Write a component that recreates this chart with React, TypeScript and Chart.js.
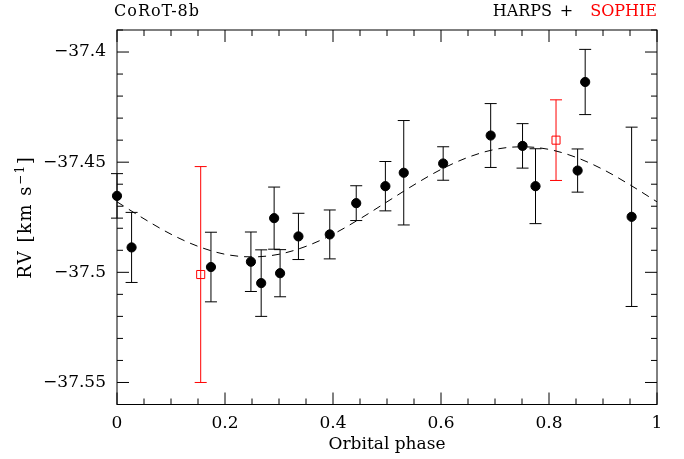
import { useEffect, useRef } from 'react';
import { Chart, registerables } from 'chart.js';

Chart.register(...registerables);

// HARPS radial velocities (phase, RV km/s, 1-sigma error)
const harpsPhase = [0.0, 0.027, 0.174, 0.248, 0.267, 0.291, 0.302, 0.336, 0.394, 0.443, 0.497, 0.531, 0.604, 0.692, 0.751, 0.775, 0.853, 0.867, 0.953];
const harpsRV = [-37.4653, -37.4887, -37.4976, -37.4952, -37.5049, -37.4754, -37.5004, -37.4837, -37.4828, -37.4686, -37.4609, -37.4548, -37.4506, -37.4379, -37.4426, -37.4609, -37.4538, -37.4136, -37.4748];
const harpsErr = [0.0101, 0.0159, 0.0158, 0.0135, 0.0151, 0.0141, 0.0107, 0.0105, 0.0111, 0.0079, 0.0112, 0.0237, 0.0076, 0.0145, 0.0101, 0.017, 0.0098, 0.0148, 0.0407];

// SOPHIE radial velocities
const sophiePhase = [0.155, 0.813];
const sophieRV = [-37.501, -37.44];
const sophieErr = [0.049, 0.0183];

// Orbital model curve
const modelPhase = [0, 0.05, 0.1, 0.15, 0.2, 0.25, 0.3, 0.35, 0.4, 0.45, 0.5, 0.55, 0.6, 0.65, 0.7, 0.75, 0.8, 0.85, 0.9, 0.95, 1.0];
const modelRV = [-37.468, -37.4757, -37.4827, -37.4882, -37.4918, -37.493, -37.4918, -37.4882, -37.4827, -37.4757, -37.468, -37.4603, -37.4533, -37.4478, -37.4442, -37.443, -37.4442, -37.4478, -37.4533, -37.4603, -37.468];

// Axes
const xMin = 0;
const xMax = 1;
const yMin = -37.56;
const yMax = -37.39;
const xTickValues = [0, 0.2, 0.4, 0.6, 0.8, 1];
const xTickLabels = ['0', '0.2', '0.4', '0.6', '0.8', '1'];
const yTickValues = [-37.55, -37.5, -37.45, -37.4];
const yTickLabels = ['\u221237.55', '\u221237.5', '\u221237.45', '\u221237.4'];
const xMinorValues = [0, 0.05, 0.1, 0.15, 0.2, 0.25, 0.3, 0.35, 0.4, 0.45, 0.5, 0.55, 0.6, 0.65, 0.7, 0.75, 0.8, 0.85, 0.9, 0.95, 1];
const yMinorValues = [-37.56, -37.55, -37.54, -37.53, -37.52, -37.51, -37.5, -37.49, -37.48, -37.47, -37.46, -37.45, -37.44, -37.43, -37.42, -37.41, -37.4, -37.39];

const FONT = '"DejaVu Serif", serif';

const isMajor = (v: number, majors: number[]) => majors.some((m) => Math.abs(m - v) < 1e-9);

const framePlugin = {
  id: 'frameAndErrors',
  beforeDatasetsDraw(chart: any) {
    const { ctx, chartArea: a, scales } = chart;
    const xs = scales.x;
    const ys = scales.y;
    ctx.save();
    ctx.strokeStyle = '#000';
    ctx.lineWidth = 1;
    ctx.strokeRect(a.left, a.top, a.right - a.left, a.bottom - a.top);
    ctx.beginPath();
    xMinorValues.forEach((v) => {
      const px = xs.getPixelForValue(v);
      const len = isMajor(v, xTickValues) ? 12 : 6;
      ctx.moveTo(px, a.bottom);
      ctx.lineTo(px, a.bottom - len);
      ctx.moveTo(px, a.top);
      ctx.lineTo(px, a.top + len);
    });
    yMinorValues.forEach((v) => {
      const py = ys.getPixelForValue(v);
      const len = isMajor(v, yTickValues) ? 12 : 6;
      ctx.moveTo(a.left, py);
      ctx.lineTo(a.left + len, py);
      ctx.moveTo(a.right, py);
      ctx.lineTo(a.right - len, py);
    });
    ctx.stroke();

    const drawErr = (px: number[], py: number[], pe: number[], color: string) => {
      ctx.strokeStyle = color;
      ctx.beginPath();
      for (let i = 0; i < px.length; i++) {
        const x = xs.getPixelForValue(px[i]);
        const y1 = ys.getPixelForValue(py[i] + pe[i]);
        const y2 = ys.getPixelForValue(py[i] - pe[i]);
        ctx.moveTo(x, y1);
        ctx.lineTo(x, y2);
        ctx.moveTo(x - 6, y1);
        ctx.lineTo(x + 6, y1);
        ctx.moveTo(x - 6, y2);
        ctx.lineTo(x + 6, y2);
      }
      ctx.stroke();
    };
    drawErr(harpsPhase, harpsRV, harpsErr, '#000');
    drawErr(sophiePhase, sophieRV, sophieErr, '#ff0000');
    ctx.restore();
  },
  afterDraw(chart: any) {
    const { ctx, chartArea: a } = chart;
    ctx.save();
    ctx.fillStyle = '#000';
    ctx.textBaseline = 'alphabetic';

    // top-left label
    ctx.font = `16px ${FONT}`;
    (ctx as any).letterSpacing = '1px';
    ctx.textAlign = 'left';
    ctx.fillText('CoRoT-8b', a.left - 3, 16);
    (ctx as any).letterSpacing = '0px';

    // top-right label
    ctx.textAlign = 'right';
    ctx.fillStyle = '#ff0000';
    ctx.fillText('SOPHIE', a.right, 16);
    ctx.fillStyle = '#000';
    ctx.textAlign = 'center';
    ctx.fillText('+', a.right - 90.5, 16);
    ctx.textAlign = 'right';
    ctx.fillText('HARPS', a.right - 105, 16);

    // x title
    ctx.font = `17px ${FONT}`;
    ctx.textAlign = 'center';
    ctx.fillText('Orbital phase', (a.left + a.right) / 2, 449);

    // y title (rotated)
    const cy = (a.top + a.bottom) / 2;
    ctx.translate(31, cy);
    ctx.rotate(-Math.PI / 2);
    (ctx as any).letterSpacing = '1.5px';
    ctx.textAlign = 'left';
    const big = `18px ${FONT}`;
    const small = `12px ${FONT}`;
    const p1 = 'RV [km s';
    const p2 = '\u22121';
    const p3 = ']';
    ctx.font = big;
    const w1 = ctx.measureText(p1).width;
    const w3 = ctx.measureText(p3).width;
    ctx.font = small;
    const w2 = ctx.measureText(p2).width;
    const total = w1 + w2 + w3;
    let x0 = -total / 2;
    ctx.font = big;
    ctx.fillText(p1, x0, 0);
    x0 += w1;
    ctx.font = small;
    ctx.fillText(p2, x0, -7);
    x0 += w2;
    ctx.font = big;
    ctx.fillText(p3, x0, 0);
    ctx.restore();
  },
};

export default function App() {
  const canvasRef = useRef<HTMLCanvasElement | null>(null);

  useEffect(() => {
    const canvas = canvasRef.current;
    if (!canvas) return;
    const chart = new Chart(canvas, {
      type: 'scatter',
      data: {
        datasets: [
          {
            label: 'Model',
            data: modelPhase.map((p, i) => ({ x: p, y: modelRV[i] })),
            showLine: true,
            borderColor: '#000',
            borderWidth: 1,
            borderDash: [8, 6],
            pointRadius: 0,
            cubicInterpolationMode: 'monotone',
            fill: false,
            clip: false,
          } as any,
          {
            label: 'HARPS',
            data: harpsPhase.map((p, i) => ({ x: p, y: harpsRV[i] })),
            pointRadius: 4.6,
            pointBorderWidth: 1,
            pointBackgroundColor: '#000',
            pointBorderColor: '#000',
            clip: false,
          } as any,
          {
            label: 'SOPHIE',
            data: sophiePhase.map((p, i) => ({ x: p, y: sophieRV[i] })),
            pointStyle: 'rect',
            pointRadius: 5.7,
            pointBorderWidth: 1,
            pointBackgroundColor: 'rgba(0,0,0,0)',
            pointBorderColor: '#ff0000',
            clip: false,
          } as any,
        ],
      },
      options: {
        animation: false,
        responsive: true,
        maintainAspectRatio: false,
        events: [],
        layout: { padding: { top: 30, right: 27, left: 0, bottom: 0 } },
        plugins: {
          legend: { display: false },
          tooltip: { enabled: false },
          title: { display: false },
        },
        scales: {
          x: {
            type: 'linear',
            min: xMin,
            max: xMax,
            grid: { display: false, drawTicks: false },
            border: { display: false },
            afterBuildTicks: (s: any) => {
              s.ticks = xTickValues.map((v) => ({ value: v }));
            },
            afterFit: (s: any) => {
              s.height = 54.5;
            },
            ticks: {
              padding: 9,
              color: '#000',
              font: { family: FONT, size: 17 },
              maxRotation: 0,
              autoSkip: false,
              callback: (v: any) => {
                const i = xTickValues.findIndex((t) => Math.abs(t - Number(v)) < 1e-9);
                return i >= 0 ? xTickLabels[i] : '';
              },
            },
          },
          y: {
            type: 'linear',
            min: yMin,
            max: yMax,
            grid: { display: false, drawTicks: false },
            border: { display: false },
            afterBuildTicks: (s: any) => {
              s.ticks = yTickValues.map((v) => ({ value: v }));
            },
            afterFit: (s: any) => {
              s.width = 117;
            },
            ticks: {
              padding: 11,
              color: '#000',
              font: { family: FONT, size: 17 },
              autoSkip: false,
              callback: (v: any) => {
                const i = yTickValues.findIndex((t) => Math.abs(t - Number(v)) < 1e-9);
                return i >= 0 ? yTickLabels[i] : '';
              },
            },
          },
        },
      } as any,
      plugins: [framePlugin],
    });
    return () => chart.destroy();
  }, []);

  return (
    <div style={{ position: 'fixed', left: 0, top: 0, width: 684, height: 459, background: '#fff' }}>
      <canvas ref={canvasRef} />
    </div>
  );
}
